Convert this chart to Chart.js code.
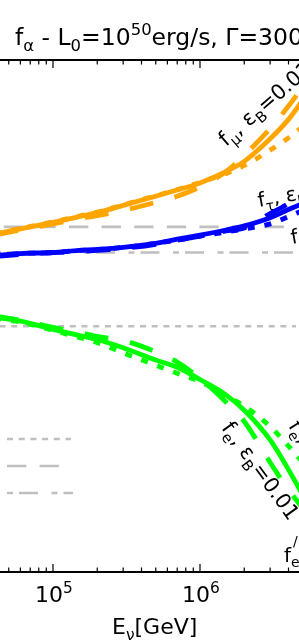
<!DOCTYPE html>
<html>
<head>
<meta charset="utf-8">
<script src="https://cdn.jsdelivr.net/npm/chart.js@4.4.1/dist/chart.umd.min.js"></script>
<style>
  html, body { margin: 0; padding: 0; background: #fff; }
  canvas { display: block; }
</style>
</head>
<body>
<canvas id="fluxChart" width="299" height="640"></canvas>
<script>
// neutrino energies [GeV] at which the flavour fractions were read
const energy = [4e4, 6e4, 1e5, 1.5e5, 2e5, 3e5, 5e5, 7e5, 1e6, 1.5e6, 2e6, 3e6, 4e6, 5e6, 7e6];

// f_mu
const muSolid  = [0.430, 0.435, 0.4415, 0.447, 0.451, 0.458, 0.467, 0.473, 0.480, 0.491, 0.501, 0.523, 0.542, 0.561, 0.591];
const muDashed = [0.429, 0.434, 0.440, 0.445, 0.448, 0.453, 0.461, 0.467, 0.476, 0.491, 0.507, 0.533, 0.555, 0.574, 0.604];
const muDotted = [0.4305, 0.4355, 0.442, 0.4475, 0.4515, 0.4585, 0.4675, 0.4735, 0.4805, 0.489, 0.497, 0.512, 0.524, 0.535, 0.551];

// f_tau
const tauSolid  = [0.409, 0.411, 0.412, 0.414, 0.415, 0.417, 0.421, 0.425, 0.429, 0.434, 0.438, 0.446, 0.454, 0.460, 0.471];
const tauDashed = [0.408, 0.410, 0.412, 0.413, 0.414, 0.416, 0.420, 0.424, 0.428, 0.433, 0.436, 0.450, 0.460, 0.470, 0.485];
const tauDotted = [0.409, 0.411, 0.412, 0.414, 0.415, 0.417, 0.421, 0.424, 0.428, 0.432, 0.435, 0.440, 0.447, 0.453, 0.461];

// f_e
const eSolid  = [0.349, 0.345, 0.337, 0.331, 0.327, 0.319, 0.307, 0.300, 0.288, 0.273, 0.258, 0.229, 0.200, 0.175, 0.136];
const eDashed = [0.350, 0.346, 0.339, 0.334, 0.330, 0.326, 0.315, 0.305, 0.289, 0.266, 0.247, 0.207, 0.180, 0.162, 0.126];
const eDotted = [0.348, 0.344, 0.336, 0.329, 0.324, 0.314, 0.302, 0.294, 0.286, 0.272, 0.262, 0.242, 0.223, 0.207, 0.182];

// pion-source reference values (grey lines)
const refEnergy = [1e4, 4.5e6];
const refMu  = [0.437, 0.437];
const refTau = [0.412, 0.412];
const refE   = [0.340, 0.340];

const majorTicks = [1e5, 1e6];

const ORANGE = '#ffa500', BLUE = '#0000ff', GREEN = '#00ff00', GREY = '#bfbfbf';
const DASH = [24, 22], DOT = [7, 10];
const GDASH = [19.3, 13.3], GDOT = [6, 5.7], GDASHDOT = [6, 6, 19, 13.5];

const pts = (xs, ys) => xs.map((x, i) => ({ x, y: ys[i] }));

function curve(ys, color, dash) {
    return { data: pts(energy, ys), borderColor: color, borderWidth: 4.8, borderDash: dash || [] };
}
function refLine(ys, dash) {
    return { data: pts(refEnergy, ys), borderColor: GREY, borderWidth: 2.7, borderDash: dash, cubicInterpolationMode: 'default' };
}

// tiny markup: "f_{mu}" subscript, "10^{5}" superscript
function parseRuns(s) {
    const runs = [];
    const re = /([_^])\{([^}]*)\}|([^_^]+)/g;
    let m;
    while ((m = re.exec(s))) {
        if (m[3]) runs.push({ t: m[3], k: null });
        else runs.push({ t: m[2], k: m[1] === '_' ? 'sub' : 'sup' });
    }
    return runs;
}
function runsWidth(ctx, runs, size) {
    let w = 0;
    for (const r of runs) {
        ctx.font = `${r.k ? size * 0.7 : size}px "DejaVu Sans"`;
        w += ctx.measureText(r.t).width;
    }
    return w;
}
function drawText(ctx, s, x, y, size, angle = 0, align = 'left') {
    const runs = parseRuns(s);
    ctx.save();
    ctx.translate(x, y);
    ctx.rotate(angle * Math.PI / 180);
    let cx = align === 'center' ? -runsWidth(ctx, runs, size) / 2 : 0;
    ctx.fillStyle = '#000';
    ctx.textBaseline = 'alphabetic';
    ctx.textAlign = 'left';
    for (const r of runs) {
        const fs = r.k ? size * 0.7 : size;
        ctx.font = `${fs}px "DejaVu Sans"`;
        const dy = r.k === 'sub' ? size * 0.27 : r.k === 'sup' ? -size * 0.42 : 0;
        ctx.fillText(r.t, cx, dy);
        cx += ctx.measureText(r.t).width;
    }
    ctx.restore();
}

const decor = {
    id: 'decor',
    afterDraw(chart) {
        const { ctx, chartArea: a, scales: { x } } = chart;
        ctx.save();

        // spines
        ctx.strokeStyle = '#000';
        ctx.lineWidth = 1.8;
        ctx.beginPath();
        ctx.moveTo(a.left, a.top); ctx.lineTo(a.right, a.top);
        ctx.moveTo(a.left, a.bottom); ctx.lineTo(a.right, a.bottom);
        ctx.stroke();

        // inward ticks, top and bottom
        ctx.lineWidth = 1.2;
        ctx.beginPath();
        for (let d = 1e4; d <= 1e7; d *= 10) {
            for (let k = 1; k <= 9; k++) {
                const px = x.getPixelForValue(d * k);
                if (px < a.left - 1 || px > a.right + 1) continue;
                const len = k === 1 ? 8 : 4.5;
                ctx.moveTo(px, a.bottom); ctx.lineTo(px, a.bottom - len);
                ctx.moveTo(px, a.top); ctx.lineTo(px, a.top + len);
            }
        }
        ctx.stroke();

        // tick labels
        for (const v of majorTicks) {
            const exp = Math.round(Math.log10(v));
            drawText(ctx, `10^{${exp}}`, x.getPixelForValue(v) + 1, a.bottom + 30, 22, 0, 'center');
        }

        // axis title and plot title
        drawText(ctx, 'E_{ν}[GeV]', 112, 634, 22);
        drawText(ctx, 'f_{α} - L_{0}=10^{50}erg/s, Γ=300', 15, 45, 23.5);

        // curve labels
        drawText(ctx, 'f_{μ}, ε_{B}=0.01', 226, 147, 21, -41);
        drawText(ctx, 'f_{τ}, ε_{B}=0.01', 259, 207, 20, -10);
        drawText(ctx, 'f_{τ}, ε_{B}=1', 292, 244, 20, -10);
        drawText(ctx, 'f_{e}, ε_{B}=0.01', 221, 428, 21, 54);
        drawText(ctx, 'f_{e}, ε_{B}=1', 288, 426, 20, 58);
        drawText(ctx, 'f_{e}', 284, 562, 20);
        drawText(ctx, '/', 293, 546, 14);

        // legend handles (grey styles)
        const hx = a.left + 7;
        const handles = [[GDOT, 439, 64], [GDASH, 466, 52], [GDASHDOT, 493, 66]];
        ctx.strokeStyle = GREY;
        ctx.lineWidth = 2.7;
        for (const [dash, y, len] of handles) {
            ctx.setLineDash(dash);
            ctx.beginPath();
            ctx.moveTo(hx, y); ctx.lineTo(hx + len, y);
            ctx.stroke();
        }
        ctx.restore();
    }
};

const xMin = Math.pow(10, 5 - 53 / 147);
const xMax = Math.pow(10, 6 + 99 / 147);

new Chart(document.getElementById('fluxChart').getContext('2d'), {
    type: 'line',
    data: {
        datasets: [
            curve(muSolid, ORANGE), curve(muDashed, ORANGE, DASH), curve(muDotted, ORANGE, DOT),
            curve(tauSolid, BLUE), curve(tauDashed, BLUE, DASH), curve(tauDotted, BLUE, DOT),
            curve(eSolid, GREEN), curve(eDashed, GREEN, DASH), curve(eDotted, GREEN, DOT),
            refLine(refMu, GDASH), refLine(refTau, GDASHDOT), refLine(refE, GDOT),
        ],
    },
    options: {
        responsive: false,
        animation: false,
        layout: { padding: { top: 60, bottom: 68, left: 0, right: 0 } },
        scales: {
            x: { type: 'logarithmic', min: xMin, max: xMax, display: false },
            y: { type: 'linear', min: 0.1, max: 0.6, display: false },
        },
        elements: {
            point: { radius: 0 },
            line: { cubicInterpolationMode: 'monotone', borderCapStyle: 'butt', fill: false },
        },
        plugins: { legend: { display: false }, tooltip: { enabled: false } },
    },
    plugins: [decor],
});
</script>
</body>
</html>
